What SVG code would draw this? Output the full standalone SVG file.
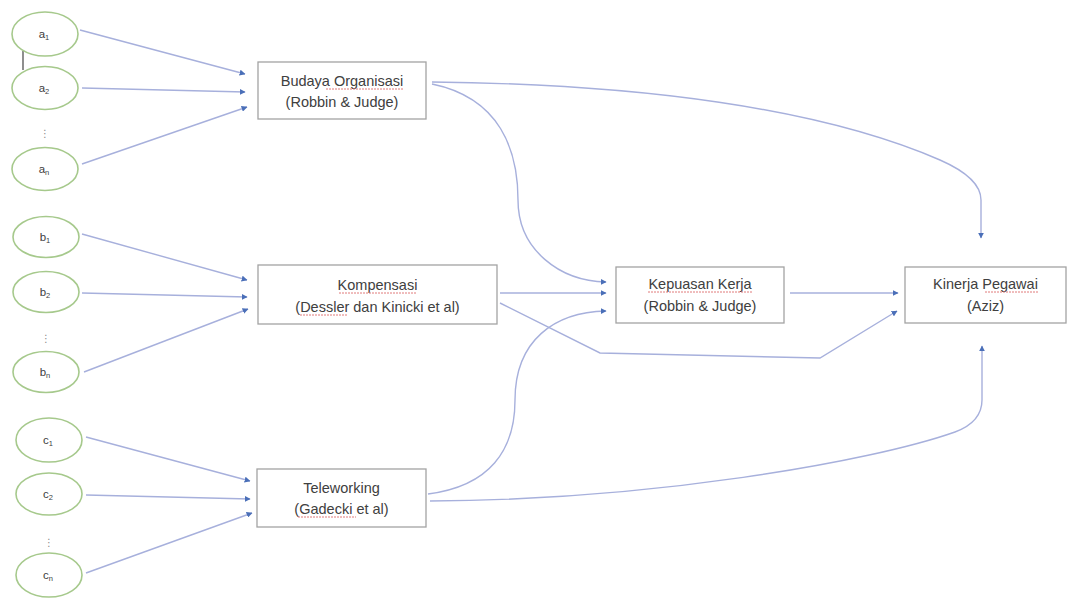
<svg xmlns="http://www.w3.org/2000/svg" width="1070" height="599" viewBox="0 0 1070 599">
<style>
.bg{fill:#ffffff}
.ell{fill:#ffffff;stroke:#a6c98c;stroke-width:1.6}
.box{fill:#ffffff;stroke:#a3a3a3;stroke-width:1.3}
.lbl{font-family:"Liberation Sans",Arial,sans-serif;font-size:11.5px;fill:#404040;text-anchor:middle}
.sub{font-size:7.5px}
.dots{font-family:"DejaVu Sans",sans-serif;font-size:10px;fill:#8a8a8a;text-anchor:middle}
.t{font-family:"Liberation Sans",Arial,sans-serif;font-size:14.5px;fill:#404040;text-anchor:middle}
.c{fill:none;stroke:#a7b0dc;stroke-width:1.4}
.sq{fill:none;stroke:#e07a7a;stroke-width:1;stroke-dasharray:2 1}
</style>
<defs>
<marker id="ah" viewBox="0 0 10 10" refX="9" refY="5" markerWidth="6" markerHeight="6" markerUnits="userSpaceOnUse" orient="auto">
<path d="M0,0 L10,5 L0,10 z" fill="#4a6fb8"/>
</marker>
</defs>
<rect class="bg" x="0" y="0" width="1070" height="599"/>

<g id="connectors">
<line x1="23" y1="51" x2="23" y2="70" stroke="#444" stroke-width="1.2"/>
<line class="c" x1="80" y1="30" x2="245" y2="74" marker-end="url(#ah)"/>
<line class="c" x1="82" y1="88" x2="245" y2="92" marker-end="url(#ah)"/>
<line class="c" x1="82" y1="164" x2="247" y2="107" marker-end="url(#ah)"/>
<line class="c" x1="82" y1="234" x2="247" y2="280" marker-end="url(#ah)"/>
<line class="c" x1="82" y1="293" x2="247" y2="297" marker-end="url(#ah)"/>
<line class="c" x1="84" y1="372" x2="248" y2="309" marker-end="url(#ah)"/>
<line class="c" x1="86" y1="437" x2="250" y2="481" marker-end="url(#ah)"/>
<line class="c" x1="86" y1="495" x2="250" y2="499" marker-end="url(#ah)"/>
<line class="c" x1="86" y1="573" x2="252" y2="513" marker-end="url(#ah)"/>
<path class="c" d="M432,84 C500,98 518,150 518,200 C518,250 560,281 606,282" marker-end="url(#ah)"/>
<path class="c" d="M432,82 C640,84 820,108 940,160 Q981,178 981,200 L981,238" marker-end="url(#ah)"/>
<line class="c" x1="500" y1="293" x2="606" y2="293" marker-end="url(#ah)"/>
<polyline class="c" points="500,303 600,353 820,358 897,311" marker-end="url(#ah)"/>
<path class="c" d="M428,494 C490,486 515,450 515,400 C515,340 555,312 606,311" marker-end="url(#ah)"/>
<path class="c" d="M430,501 C650,500 870,462 955,432 Q982,422 982,400 L982,346" marker-end="url(#ah)"/>
<line class="c" x1="790" y1="293" x2="898" y2="293" marker-end="url(#ah)"/>
</g>

<g id="a1"><ellipse class="ell" cx="45" cy="34" rx="33" ry="22"/><text class="lbl" x="44" y="38">a<tspan class="sub" dy="2">1</tspan></text></g>
<g id="a2"><ellipse class="ell" cx="45" cy="88" rx="33" ry="21.5"/><text class="lbl" x="44" y="92">a<tspan class="sub" dy="2">2</tspan></text></g>
<g id="adots"><text class="dots" x="45" y="137">⋮</text></g>
<g id="an"><ellipse class="ell" cx="45" cy="169" rx="33" ry="21.5"/><text class="lbl" x="44" y="173">a<tspan class="sub" dy="2">n</tspan></text></g>

<g id="b1"><ellipse class="ell" cx="46" cy="237" rx="33" ry="20.5"/><text class="lbl" x="45" y="241">b<tspan class="sub" dy="2">1</tspan></text></g>
<g id="b2"><ellipse class="ell" cx="46" cy="292" rx="33" ry="20.5"/><text class="lbl" x="45" y="296">b<tspan class="sub" dy="2">2</tspan></text></g>
<g id="bdots"><text class="dots" x="46" y="342">⋮</text></g>
<g id="bn"><ellipse class="ell" cx="46" cy="372" rx="33" ry="20.5"/><text class="lbl" x="45" y="376">b<tspan class="sub" dy="2">n</tspan></text></g>

<g id="c1"><ellipse class="ell" cx="49" cy="440" rx="33" ry="22"/><text class="lbl" x="48" y="444">c<tspan class="sub" dy="2">1</tspan></text></g>
<g id="c2"><ellipse class="ell" cx="49" cy="494" rx="33" ry="21"/><text class="lbl" x="48" y="498">c<tspan class="sub" dy="2">2</tspan></text></g>
<g id="cdots"><text class="dots" x="49" y="546">⋮</text></g>
<g id="cn"><ellipse class="ell" cx="49" cy="575" rx="33" ry="22"/><text class="lbl" x="48" y="579">c<tspan class="sub" dy="2">n</tspan></text></g>

<g id="budaya">
<rect class="box" x="258" y="62" width="168" height="57"/>
<text class="t" x="342" y="86">Budaya Organisasi</text>
<text class="t" x="342" y="107">(Robbin &amp; Judge)</text>
<line class="sq" x1="326" y1="89" x2="404" y2="89"/>
</g>
<g id="kompensasi">
<rect class="box" x="258" y="265" width="239" height="59"/>
<text class="t" x="377.5" y="290">Kompensasi</text>
<text class="t" x="377.5" y="312">(Dessler dan Kinicki et al)</text>
<line class="sq" x1="339" y1="293" x2="416" y2="293"/>
<line class="sq" x1="300" y1="315" x2="347" y2="315"/>
</g>
<g id="teleworking">
<rect class="box" x="257" y="469" width="169" height="58"/>
<text class="t" x="341.5" y="493">Teleworking</text>
<text class="t" x="341.5" y="514">(Gadecki et al)</text>
<line class="sq" x1="298" y1="517" x2="356" y2="517"/>
</g>
<g id="kepuasan">
<rect class="box" x="616" y="267" width="168" height="56"/>
<text class="t" x="700" y="289">Kepuasan Kerja</text>
<text class="t" x="700" y="311">(Robbin &amp; Judge)</text>
<line class="sq" x1="648" y1="292" x2="753" y2="292"/>
</g>
<g id="kinerja">
<rect class="box" x="905" y="267" width="161" height="56"/>
<text class="t" x="985.5" y="289">Kinerja Pegawai</text>
<text class="t" x="985.5" y="311">(Aziz)</text>
<line class="sq" x1="985" y1="292" x2="1038" y2="292"/>
</g>
</svg>
